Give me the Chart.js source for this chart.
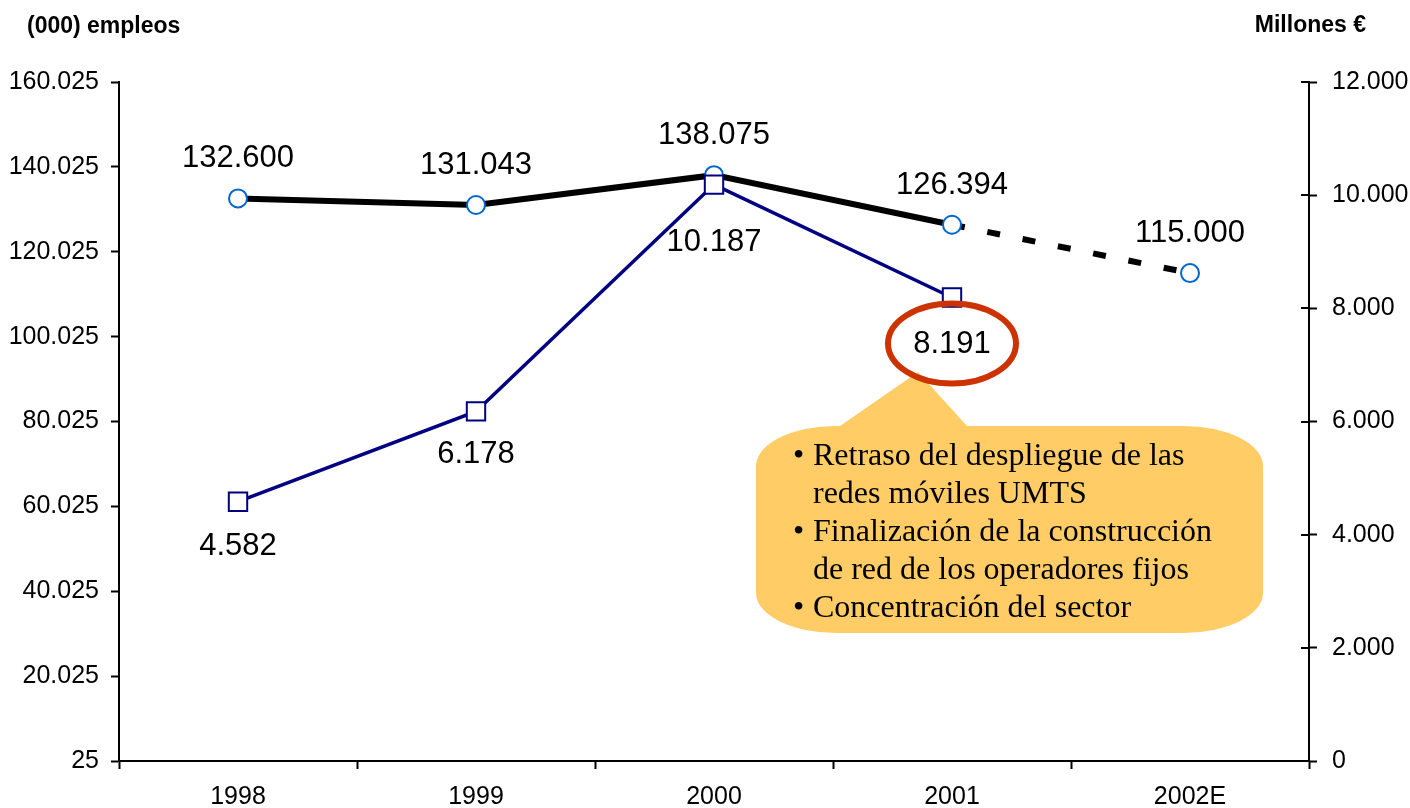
<!DOCTYPE html>
<html>
<head>
<meta charset="utf-8">
<script src="https://cdn.jsdelivr.net/npm/chart.js@4.4.1/dist/chart.umd.min.js"></script>
<style>
  html, body { margin: 0; padding: 0; background: #fff; }
  #wrap { position: relative; width: 1410px; height: 808px; }
</style>
</head>
<body>
<div id="wrap"><canvas id="chart"></canvas></div>
<script>
// data
const years = ['1998', '1999', '2000', '2001', '2002E'];
const empleos = [132600, 131043, 138075, 126394, 115000];   // (000) empleos - left axis
const inversion = [4582, 6178, 10187, 8191, null];          // Millones € - right axis
const leftTicks = [25, 20025, 40025, 60025, 80025, 100025, 120025, 140025, 160025];
const rightTicks = [0, 2000, 4000, 6000, 8000, 10000, 12000];
const calloutLines = [
  ['•', 'Retraso del despliegue de las'],
  ['', 'redes móviles UMTS'],
  ['•', 'Finalización de la construcción'],
  ['', 'de red de los operadores fijos'],
  ['•', 'Concentración del sector']
];

const SANS = '"Liberation Sans", Arial, sans-serif';
const SERIF = '"Liberation Serif", "Times New Roman", serif';

// spanish thousands separator
function fmt(v) {
  return String(v).replace(/\B(?=(\d{3})+(?!\d))/g, '.');
}

// label baseline offsets from the point (px)
const empLabelDy = [-31, -31, -31, -31, -31];
const invLabelDy = [53, 52, 66, 55];

const pointLabels = {
  id: 'pointLabels',
  afterDatasetsDraw(chart) {
    const ctx = chart.ctx;
    ctx.save();
    ctx.font = '31px ' + SANS;
    ctx.fillStyle = '#000';
    ctx.textAlign = 'center';
    ctx.textBaseline = 'alphabetic';
    const emp = chart.getDatasetMeta(0).data;
    emp.forEach((pt, i) => ctx.fillText(fmt(empleos[i]), pt.x, pt.y + empLabelDy[i]));
    const inv = chart.getDatasetMeta(1).data;
    inv.forEach((pt, i) => {
      if (inversion[i] == null) return;
      ctx.fillText(fmt(inversion[i]), pt.x, pt.y + invLabelDy[i]);
    });
    ctx.restore();
  }
};

function calloutPath(ctx, l, t, r, b, rx, ry, baseL, baseR, tip) {
  ctx.beginPath();
  ctx.moveTo(l + rx, t);
  ctx.lineTo(baseL, t);
  ctx.lineTo(tip[0], tip[1]);
  ctx.lineTo(baseR, t);
  ctx.lineTo(r - rx, t);
  ctx.ellipse(r - rx, t + ry, rx, ry, 0, -Math.PI / 2, 0);
  ctx.lineTo(r, b - ry);
  ctx.ellipse(r - rx, b - ry, rx, ry, 0, 0, Math.PI / 2);
  ctx.lineTo(l + rx, b);
  ctx.ellipse(l + rx, b - ry, rx, ry, 0, Math.PI / 2, Math.PI);
  ctx.lineTo(l, t + ry);
  ctx.ellipse(l + rx, t + ry, rx, ry, 0, Math.PI, Math.PI * 1.5);
  ctx.closePath();
}

const annotations = {
  id: 'annotations',
  afterDraw(chart) {
    const ctx = chart.ctx;
    const y1 = chart.scales.y1;
    ctx.save();

    // axis titles
    ctx.fillStyle = '#000';
    ctx.font = 'bold 23px ' + SANS;
    ctx.textBaseline = 'alphabetic';
    ctx.textAlign = 'left';
    ctx.fillText('(000) empleos', 27, 33);
    ctx.textAlign = 'right';
    ctx.fillText('Millones €', 1366, 32);

    // inward half of the right axis ticks
    ctx.strokeStyle = '#000';
    ctx.lineWidth = 2;
    rightTicks.forEach(v => {
      const y = Math.round(y1.getPixelForValue(v));
      ctx.beginPath();
      ctx.moveTo(y1.left - 8, y);
      ctx.lineTo(y1.left, y);
      ctx.stroke();
    });

    // callout box
    calloutPath(ctx, 756, 426, 1263, 633, 80, 40, 840, 967, [918, 372]);
    ctx.fillStyle = '#FFCC66';
    ctx.fill();

    ctx.fillStyle = '#000';
    ctx.font = '32px ' + SERIF;
    ctx.textAlign = 'left';
    calloutLines.forEach((ln, i) => {
      const by = 465 + i * 38;
      if (ln[0]) ctx.fillText(ln[0], 793, by);
      ctx.fillText(ln[1], 813, by);
    });

    // red ellipse round the 2001 investment label
    const p = chart.getDatasetMeta(1).data[3];
    ctx.beginPath();
    ctx.ellipse(p.x, p.y + 46, 64, 40, 0, 0, Math.PI * 2);
    ctx.strokeStyle = '#CC3300';
    ctx.lineWidth = 6;
    ctx.stroke();

    ctx.restore();
  }
};

const axisCommon = {
  border: { display: true, color: '#000', width: 2 },
  grid: { drawOnChartArea: false, color: '#000', tickLength: 8, tickWidth: 2 },
  ticks: { color: '#000', font: { family: SANS, size: 25 } }
};

new Chart(document.getElementById('chart'), {
  type: 'line',
  data: {
    labels: years,
    datasets: [
      {
        label: 'Empleos',
        data: empleos,
        yAxisID: 'y',
        order: 2,
        borderColor: '#000',
        borderWidth: 6,
        pointStyle: 'circle',
        pointRadius: 9,
        pointBorderWidth: 2,
        pointBorderColor: '#0066CC',
        pointBackgroundColor: '#fff',
        tension: 0,
        clip: false,
        segment: {
          borderDash: c => c.p1DataIndex === 4 ? [13, 23] : undefined
        }
      },
      {
        label: 'Inversión',
        data: inversion,
        yAxisID: 'y1',
        order: 1,
        borderColor: '#000080',
        borderWidth: 3.5,
        pointStyle: 'rect',
        pointRadius: 13,
        pointBorderWidth: 2,
        pointBorderColor: '#000080',
        pointBackgroundColor: '#fff',
        tension: 0,
        clip: false,
        spanGaps: false
      }
    ]
  },
  options: {
    responsive: true,
    maintainAspectRatio: false,
    animation: false,
    layout: { padding: { top: 82, left: 0, right: 0, bottom: 0 } },
    plugins: { legend: { display: false }, tooltip: { enabled: false } },
    scales: {
      x: {
        offset: true,
        border: axisCommon.border,
        grid: { ...axisCommon.grid, offset: true },
        ticks: { ...axisCommon.ticks, padding: 13, maxRotation: 0 },
        afterFit: s => { s.height = 47; }
      },
      y: {
        position: 'left',
        min: 25,
        max: 160025,
        border: axisCommon.border,
        grid: axisCommon.grid,
        ticks: { ...axisCommon.ticks, padding: 12, callback: v => fmt(v) },
        afterBuildTicks: s => { s.ticks = leftTicks.map(v => ({ value: v })); },
        afterFit: s => { s.width = 119; }
      },
      y1: {
        position: 'right',
        min: 0,
        max: 12000,
        border: axisCommon.border,
        grid: axisCommon.grid,
        ticks: { ...axisCommon.ticks, padding: 15, callback: v => fmt(v) },
        afterBuildTicks: s => { s.ticks = rightTicks.map(v => ({ value: v })); },
        afterFit: s => { s.width = 101; }
      }
    }
  },
  plugins: [pointLabels, annotations]
});
</script>
</body>
</html>
